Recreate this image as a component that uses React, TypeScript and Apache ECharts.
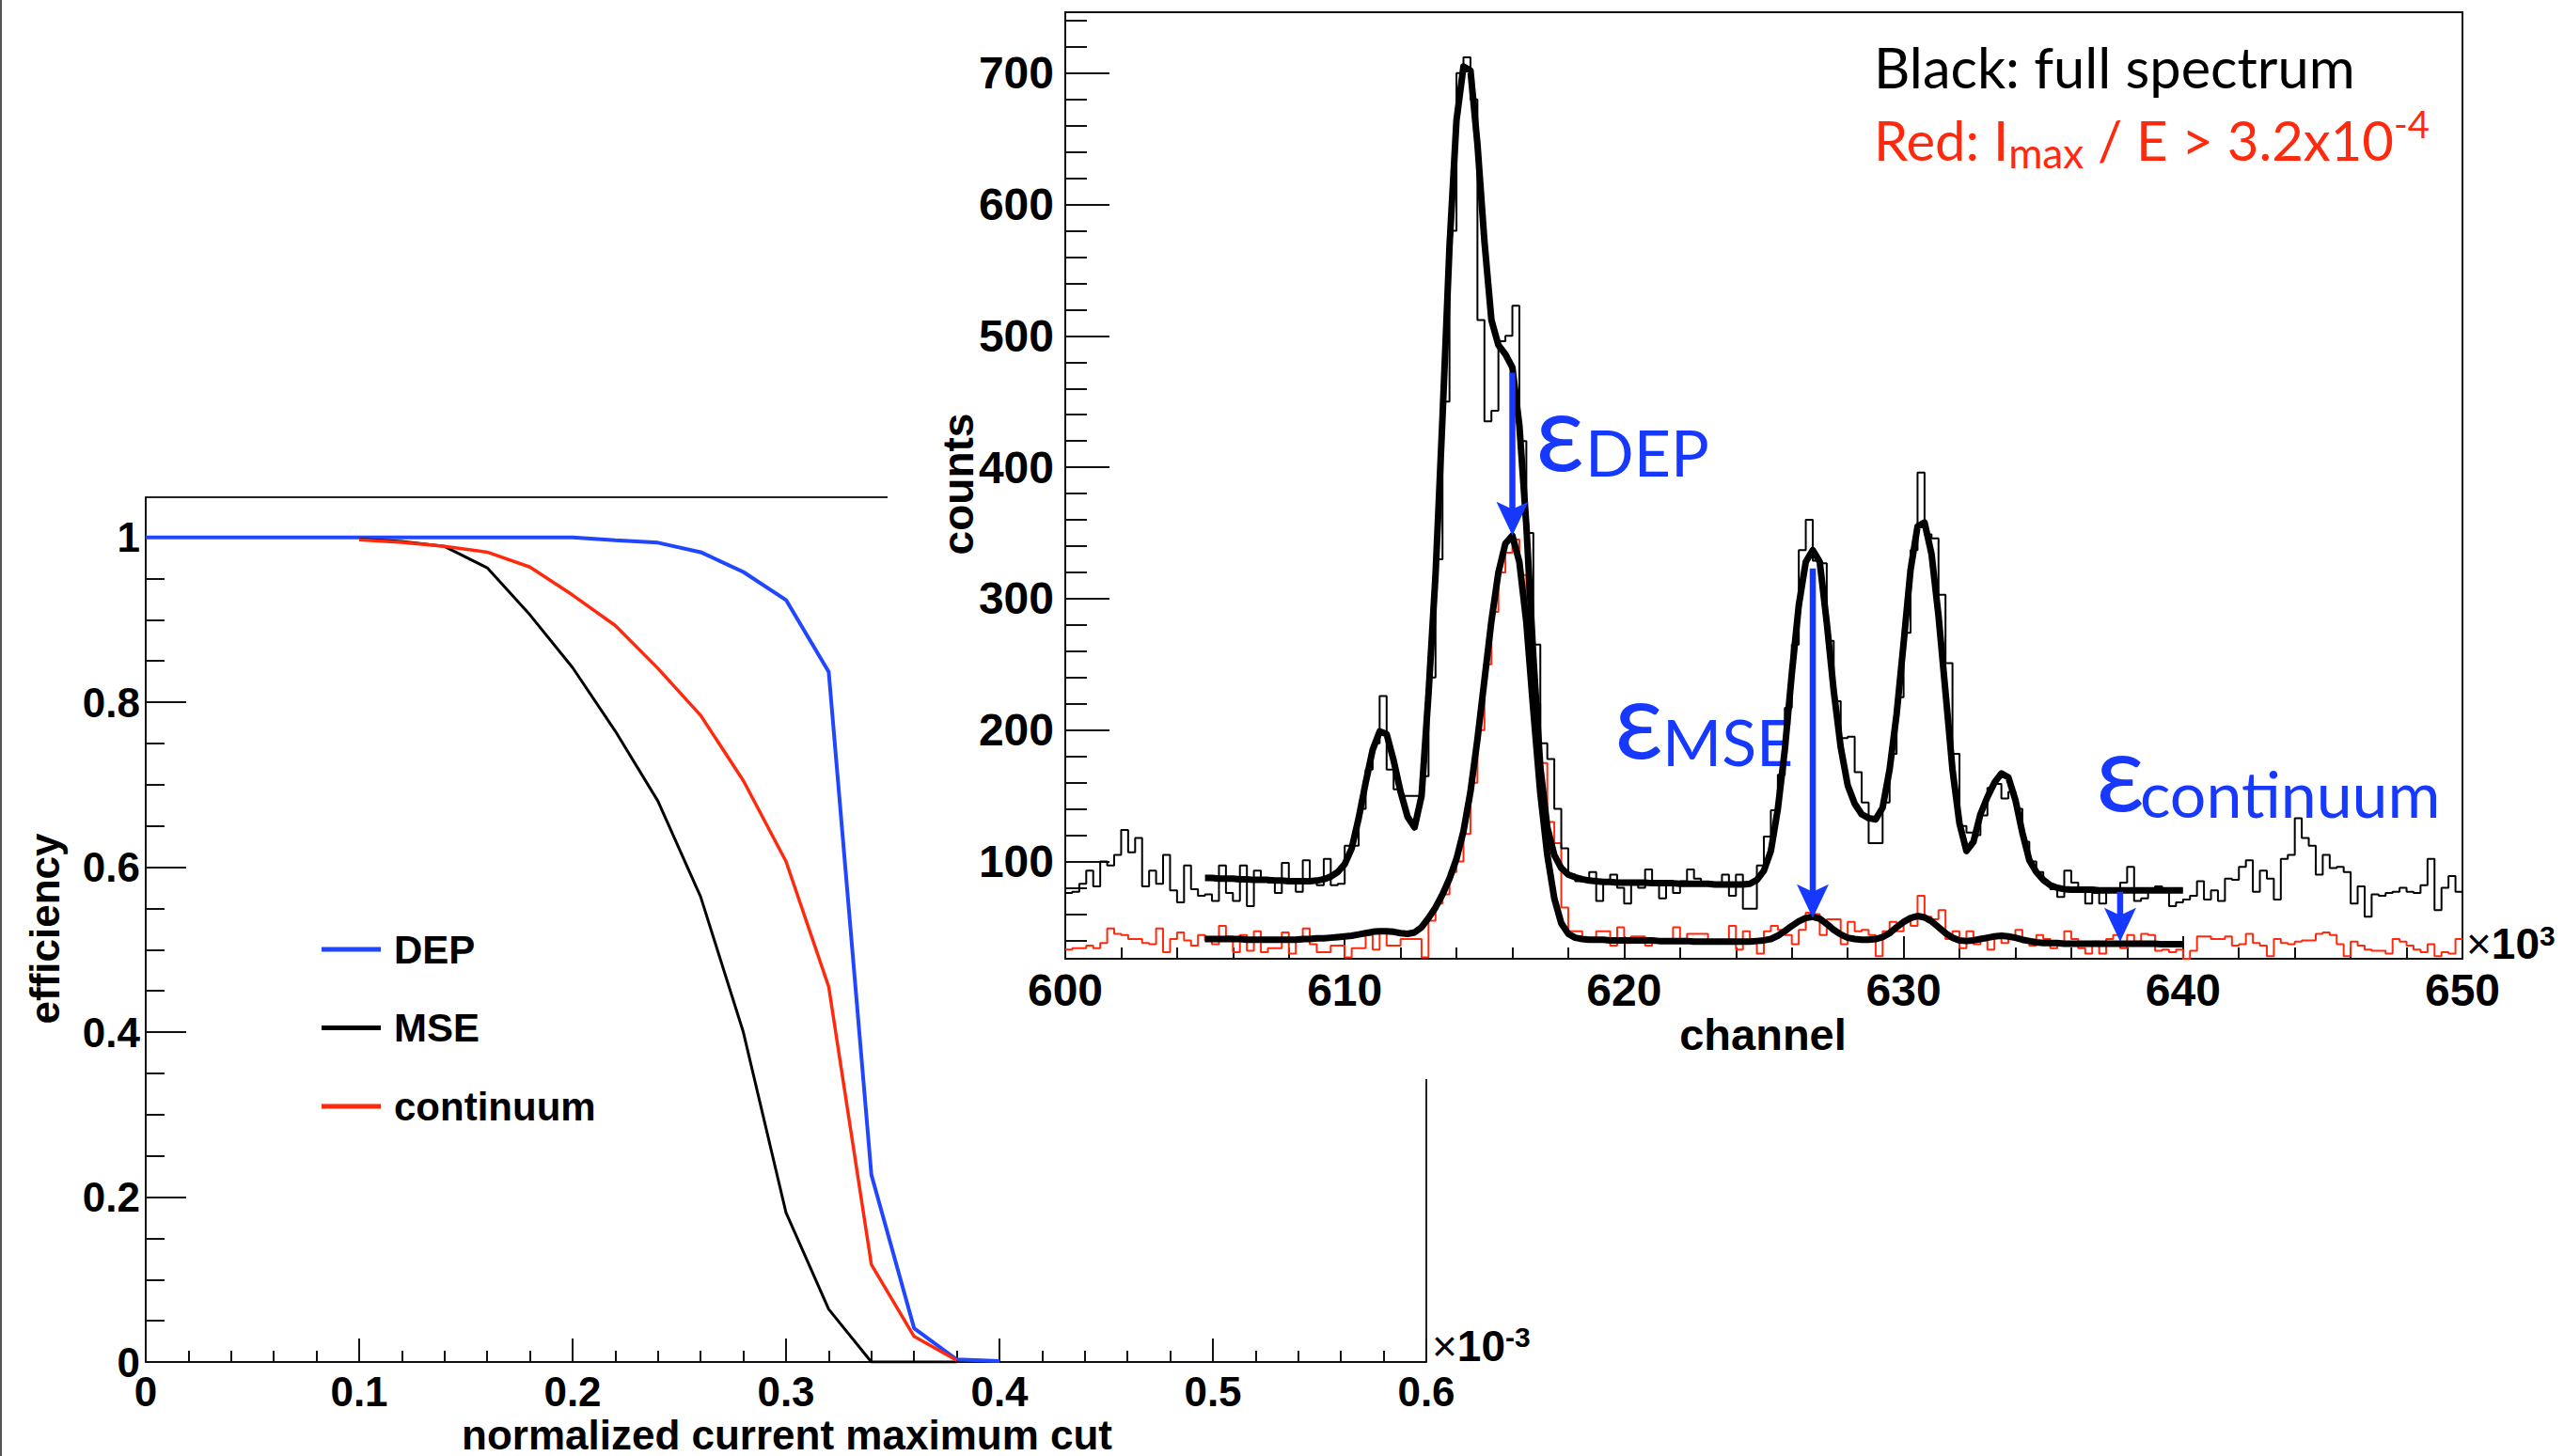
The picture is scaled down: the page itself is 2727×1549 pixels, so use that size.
import React, { useEffect, useRef } from 'react';
import * as echarts from 'echarts';

const W = 2727;
const H = 1549;

// ---------- Left panel: efficiency vs normalized current maximum cut (x in units of 1e-3) ----------
const depX = [0, 0.1, 0.2, 0.22, 0.24, 0.26, 0.28, 0.3, 0.32, 0.34, 0.36, 0.38, 0.4];
const depY = [1, 1, 1, 0.9965, 0.9935, 0.982, 0.958, 0.924, 0.837, 0.227, 0.041, 0.003, 0.001];
const mseX = [0.1, 0.12, 0.14, 0.16, 0.18, 0.2, 0.22, 0.24, 0.26, 0.28, 0.3, 0.32, 0.34, 0.36, 0.38];
const mseY = [0.998, 0.995, 0.989, 0.963, 0.906, 0.842, 0.765, 0.68, 0.564, 0.4, 0.181, 0.064, 0, 0, 0];
const contX = [0.1, 0.12, 0.14, 0.16, 0.18, 0.2, 0.22, 0.24, 0.26, 0.28, 0.3, 0.32, 0.34, 0.36, 0.38];
const contY = [0.997, 0.994, 0.989, 0.982, 0.964, 0.93, 0.893, 0.841, 0.784, 0.705, 0.607, 0.455, 0.118, 0.031, 0.002];
const effTicks = [0, 0.2, 0.4, 0.6, 0.8, 1];
const effMinor = [0.05, 0.1, 0.15, 0.25, 0.3, 0.35, 0.45, 0.5, 0.55, 0.65, 0.7, 0.75, 0.85, 0.9, 0.95];

// ---------- Right panel: spectrum (channel in units of 1e3) ----------
const BIN_START = 600;
const BIN_WIDTH = 0.25;
const fullCounts = [
  76, 77, 83, 93, 81, 100, 97, 105, 124, 107, 118, 81, 93, 83, 105, 78, 69, 97, 79, 74,
  75, 70, 97, 76, 70, 97, 66, 93, 86, 84, 76, 99, 86, 77, 101, 86, 82, 102, 82, 83,
  112, 112, 140, 170, 190, 226, 170, 155, 150, 150, 150, 165,
  240, 330, 450, 580, 700, 712, 680, 512, 435, 443, 496, 500, 523, 420, 350, 265, 190, 178, 140, 110, 90, 85,
  86, 92, 70, 84, 90, 80, 68, 84, 80, 94, 84, 72, 84, 76, 85, 94, 87, 84, 82, 82, 90, 74, 90, 64, 64, 97,
  119, 139, 166, 217, 265, 337, 360, 329, 327, 268, 222, 194, 195, 168, 145, 114, 114, 145, 182, 225,
  274, 337, 396, 349, 346, 303, 251, 182, 127, 122, 120, 135, 156, 159, 148, 153, 140, 115, 100, 92,
  84, 79, 73, 93,
  84, 78, 68, 76, 68, 77, 77, 84, 96, 70, 72, 78, 81, 77, 66, 69, 71, 74, 85, 71,
  78, 70, 87, 86, 96, 101, 77, 93, 87, 71, 102, 105, 133, 118, 112, 90, 105, 95, 96, 92,
  68, 81, 58, 75, 74, 76, 77, 80, 77, 76, 82, 102, 63, 80, 89, 77,
];
const cutCounts = [
  33, 34, 34, 36, 34, 38, 49, 45, 44, 41, 41, 38, 37, 49, 31, 41, 46, 40, 36, 44,
  40, 37, 51, 43, 31, 44, 32, 47, 31, 34, 34, 46, 30, 39, 49, 37, 31, 31, 36, 36,
  27, 34, 34, 44, 33, 47, 36, 36, 41, 41, 41, 27,
  55, 68, 75, 92, 100, 121, 160, 200, 250, 290, 320, 335, 345, 318, 270, 220, 175, 130, 114, 65, 47, 47,
  40, 40, 47, 47, 36, 50, 38, 43, 43, 36, 40, 40, 40, 50, 38, 45, 45, 45, 38, 38, 38, 51, 33, 47, 41, 30,
  47, 51, 48, 44, 37, 48, 61, 60, 44, 56, 56, 37, 54, 47, 48, 44, 28, 47, 54, 47,
  56, 51, 74, 58, 56, 63, 41, 47, 34, 47, 37, 40, 33, 44, 38, 43, 48, 41, 36, 44,
  41, 34, 38, 47,
  41, 34, 30, 39, 30, 41, 44, 34, 44, 39, 45, 44, 32, 33, 31, 33, 26, 32, 43, 43,
  41, 41, 43, 36, 37, 45, 38, 36, 28, 41, 38, 37, 39, 40, 40, 45, 46, 44, 37, 28,
  39, 36, 33, 32, 32, 30, 41, 39, 36, 33, 31, 37, 28, 31, 30, 41,
];
const FIT_START = 605;
const FIT_STEP = 0.25;
const fullFit = [
  87.5, 87.5, 87, 87, 87, 86.5, 86.5, 86, 86, 86, 85.5, 85.5, 85, 85, 85, 85, 85.5, 86.5, 88.5, 92,
  98, 110, 133, 160, 185, 199, 197, 177, 153, 134, 126, 150, 228, 318, 438, 568, 664, 705, 702, 646,
  572, 512, 493, 486, 476, 432, 356, 256, 172, 126, 105, 95, 90, 88, 86.5, 85.5, 85,
  84.5, 84.5, 84, 84, 84, 84, 84, 83.5, 83.5, 83.5, 83.5, 83, 83, 83, 83, 83, 82.5, 82.5, 82.5,
  82.5, 82.5, 83, 86, 93, 108, 140, 185, 243, 295, 328, 337, 328, 282, 230, 187, 158, 144, 136, 133,
  132, 141, 170, 212, 266, 322, 355, 358, 334, 287, 229, 170, 129, 108, 115, 136, 149, 160, 167, 164,
  147, 122, 101, 92, 86, 82, 80, 79,
  78.5, 78.5, 78.5, 78.5, 78, 78, 78, 78, 78, 78, 78, 78, 78, 78, 78, 78, 78,
];
const cutFit = [
  41, 41, 41, 41, 41, 41, 40.5, 40.5, 40.5, 40.5, 40.5, 40.5, 40.5, 40.5, 41, 41, 41.5, 41.5, 42, 42.5,
  43, 43.5, 44.5, 45.5, 46.5, 47, 47, 46.5, 45.5, 45, 46, 50, 57, 65, 75, 87, 102, 123, 153, 193,
  238, 283, 320, 342, 348, 328, 282, 215, 152, 105, 72, 53, 45, 42, 41, 40.5, 40.5,
  40.5, 40, 40, 40, 40, 40, 40, 40, 39.5, 39.5, 39.5, 39.5, 39.5, 39, 39, 39, 39, 39, 39,
  39, 39, 39, 39.5, 40, 41, 43.5, 47, 51, 54.5, 57, 58, 56.5, 52.5, 48, 44.5, 42, 41, 40.5, 40.5,
  41, 42.5, 45.5, 50, 54, 57, 58.5, 57.5, 54.5, 50, 45.5, 42, 40, 39.5, 40, 41, 42, 43, 43.5, 43,
  42, 40.5, 39.5, 38.5, 38,
  38, 38, 37.5, 37.5, 37.5, 37.5, 37.5, 37.5, 37.5, 37.5, 37.5, 37.5, 37.5, 37.5, 37.5, 37.5, 37, 37, 37, 37,
];
const arrowX = [616.0, 626.75, 637.75];
const arrowTop = [472, 323, 77];
const arrowTip = [348, 57, 39];
const countTicks = [100, 200, 300, 400, 500, 600, 700];
const countMinor = [40, 60, 80, 120, 140, 160, 180, 220, 240, 260, 280, 320, 340, 360, 380, 420, 440, 460, 480, 520, 540, 560, 580, 620, 640, 660, 680, 720, 740];

const BLUE_LINE = '#2146ff';
const BLUE_TXT = '#1638ff';
const RED = '#ff2a0d';
const AXIS = '#111';
const SANS = "'Liberation Sans', Arial, sans-serif";
const GILL = "Lato, 'Noto Sans', sans-serif";

function pairs(xs: number[], ys: number[]) {
  return xs.map((x, i) => [x, ys[i]]);
}
function histData(counts: number[]) {
  const d = counts.map((v, i) => [BIN_START + i * BIN_WIDTH, v]);
  d.push([BIN_START + counts.length * BIN_WIDTH, counts[counts.length - 1]]);
  return d;
}
function fitData(vals: number[]) {
  return vals.map((v, i) => [FIT_START + i * FIT_STEP, v]);
}

function buildOption(): any {
  const tickLabel = { fontFamily: SANS, fontWeight: 'bold', color: '#000' };
  return {
    animation: false,
    backgroundColor: '#fff',
    grid: [
      { left: 155, top: 529, width: 1362, height: 920, show: false },
      { left: 1133, top: 13, width: 1486, height: 1007, show: true, borderColor: AXIS, borderWidth: 2, backgroundColor: 'transparent' },
    ],
    xAxis: [
      {
        type: 'value', gridIndex: 0, min: 0, max: 0.6, interval: 0.1,
        axisLine: { show: true, lineStyle: { color: AXIS, width: 2 } },
        axisTick: { show: true, inside: true, length: 25, lineStyle: { color: AXIS, width: 2 } },
        minorTick: { show: true, splitNumber: 5, length: 12, lineStyle: { color: AXIS, width: 2 } },
        axisLabel: { ...tickLabel, fontSize: 44, lineHeight: 42, margin: 10, showMinLabel: true, showMaxLabel: true },
        splitLine: { show: false },
      },
      {
        type: 'value', gridIndex: 1, min: 600, max: 650, interval: 10,
        axisLine: { show: true, lineStyle: { color: AXIS, width: 2 } },
        axisTick: { show: true, inside: true, length: 24, lineStyle: { color: AXIS, width: 2 } },
        minorTick: { show: true, splitNumber: 5, length: 12, lineStyle: { color: AXIS, width: 2 } },
        axisLabel: { ...tickLabel, fontSize: 48, lineHeight: 48, margin: 9, showMinLabel: true, showMaxLabel: true },
        splitLine: { show: false },
      },
    ],
    yAxis: [
      {
        type: 'value', gridIndex: 0, position: 'left', min: 0, max: 1.0486,
        axisLine: { show: true, lineStyle: { color: AXIS, width: 2 } },
        axisTick: { show: true, inside: true, length: 43, customValues: effTicks, lineStyle: { color: AXIS, width: 2 } },
        axisLabel: { ...tickLabel, fontSize: 44, margin: 6, customValues: effTicks },
        splitLine: { show: false },
      },
      {
        type: 'value', gridIndex: 0, position: 'left', offset: 0, min: 0, max: 1.0486,
        axisLine: { show: false },
        axisTick: { show: true, inside: true, length: 20, customValues: effMinor, lineStyle: { color: AXIS, width: 2 } },
        axisLabel: { show: false },
        splitLine: { show: false },
      },
      {
        type: 'value', gridIndex: 1, position: 'left', min: 26, max: 746.3,
        axisLine: { show: true, lineStyle: { color: AXIS, width: 2 } },
        axisTick: { show: true, inside: true, length: 47, customValues: countTicks, lineStyle: { color: AXIS, width: 2 } },
        axisLabel: { ...tickLabel, fontSize: 48, margin: 12, customValues: countTicks },
        splitLine: { show: false },
      },
      {
        type: 'value', gridIndex: 1, position: 'left', offset: 0, min: 26, max: 746.3,
        axisLine: { show: false },
        axisTick: { show: true, inside: true, length: 23, customValues: countMinor, lineStyle: { color: AXIS, width: 2 } },
        axisLabel: { show: false },
        splitLine: { show: false },
      },
    ],
    legend: {
      data: ['DEP', 'MSE', 'continuum'],
      orient: 'vertical', left: 337, top: 983,
      icon: 'rect',
      itemWidth: 63, itemHeight: 5, itemGap: 39.5,
      selectedMode: false,
      textStyle: { fontFamily: SANS, fontWeight: 'bold', fontSize: 42, lineHeight: 44, color: '#000', padding: [0, 0, 0, 9] },
    },
    series: [
      { name: 'DEP', type: 'line', xAxisIndex: 0, yAxisIndex: 0, data: pairs(depX, depY), symbol: 'none', lineStyle: { color: BLUE_LINE, width: 4 }, itemStyle: { color: BLUE_LINE }, z: 3 },
      { name: 'MSE', type: 'line', xAxisIndex: 0, yAxisIndex: 0, data: pairs(mseX, mseY), symbol: 'none', lineStyle: { color: '#000', width: 3 }, itemStyle: { color: '#000' }, z: 4 },
      { name: 'continuum', type: 'line', xAxisIndex: 0, yAxisIndex: 0, data: pairs(contX, contY), symbol: 'none', lineStyle: { color: RED, width: 3.5 }, itemStyle: { color: RED }, z: 5 },

      { name: 'cut spectrum', type: 'line', step: 'end', xAxisIndex: 1, yAxisIndex: 2, data: histData(cutCounts), symbol: 'none', lineStyle: { color: RED, width: 2 }, z: 3 },
      { name: 'full spectrum', type: 'line', step: 'end', xAxisIndex: 1, yAxisIndex: 2, data: histData(fullCounts), symbol: 'none', lineStyle: { color: '#000', width: 2 }, z: 4 },
      { name: 'full fit', type: 'line', xAxisIndex: 1, yAxisIndex: 2, data: fitData(fullFit), symbol: 'none', lineStyle: { color: '#000', width: 7, join: 'round' }, z: 5 },
      { name: 'cut fit', type: 'line', xAxisIndex: 1, yAxisIndex: 2, data: fitData(cutFit), symbol: 'none', lineStyle: { color: '#000', width: 7, join: 'round' }, z: 5 },
      {
        name: 'arrows', type: 'custom', xAxisIndex: 1, yAxisIndex: 2, z: 10,
        data: arrowX.map((x, i) => [x, arrowTop[i], arrowTip[i]]),
        encode: { x: 0, y: [1, 2] },
        renderItem: (params: any, api: any) => {
          const p1 = api.coord([api.value(0), api.value(1)]);
          const p2 = api.coord([api.value(0), api.value(2)]);
          const hw = 17, hh = 36, notch = 8;
          return {
            type: 'group',
            children: [
              { type: 'rect', shape: { x: p1[0] - 3.25, y: p1[1], width: 6.5, height: p2[1] - hh + notch + 2 - p1[1] }, style: { fill: BLUE_TXT } },
              { type: 'polygon', shape: { points: [[p2[0] - hw, p2[1] - hh], [p2[0], p2[1] - hh + notch], [p2[0] + hw, p2[1] - hh], [p2[0], p2[1]]] }, style: { fill: BLUE_TXT } },
            ],
          };
        },
      },
    ],
    graphic: [
      { type: 'line', shape: { x1: 1, y1: 0, x2: 1, y2: H }, style: { stroke: '#555', lineWidth: 2 } },
      { type: 'line', shape: { x1: 155, y1: 529, x2: 944, y2: 529 }, style: { stroke: '#222', lineWidth: 2 } },
      { type: 'line', shape: { x1: 1517, y1: 1148, x2: 1517, y2: 1449 }, style: { stroke: '#222', lineWidth: 2 } },

      { type: 'text', x: 47, y: 988, rotation: Math.PI / 2, style: { text: 'efficiency', fontFamily: SANS, fontWeight: 'bold', fontSize: 44, fill: '#000', align: 'center', verticalAlign: 'middle' } },
      { type: 'text', x: 837, y: 1526, style: { text: 'normalized current maximum cut', fontFamily: SANS, fontWeight: 'bold', fontSize: 44, lineHeight: 44, fill: '#000', align: 'center', verticalAlign: 'middle' } },
      {
        type: 'text', x: 1523, y: 1432,
        style: {
          text: '{x|×}{b|10}{s|-3}', align: 'left', verticalAlign: 'middle',
          rich: {
            x: { fontFamily: SANS, fontSize: 46, fill: '#000', lineHeight: 50 },
            b: { fontFamily: SANS, fontWeight: 'bold', fontSize: 46, fill: '#000', lineHeight: 50 },
            s: { fontFamily: SANS, fontWeight: 'bold', fontSize: 30, fill: '#000', verticalAlign: 'top', lineHeight: 30 },
          },
        },
      },

      { type: 'text', x: 1019, y: 515, rotation: Math.PI / 2, style: { text: 'counts', fontFamily: SANS, fontWeight: 'bold', fontSize: 46, fill: '#000', align: 'center', verticalAlign: 'middle' } },
      { type: 'text', x: 1875, y: 1100, style: { text: 'channel', fontFamily: SANS, fontWeight: 'bold', fontSize: 47, fill: '#000', align: 'center', verticalAlign: 'middle' } },
      {
        type: 'text', x: 2623, y: 1004,
        style: {
          text: '{x|×}{b|10}{s|3}', align: 'left', verticalAlign: 'middle',
          rich: {
            x: { fontFamily: SANS, fontSize: 46, fill: '#000', lineHeight: 48 },
            b: { fontFamily: SANS, fontWeight: 'bold', fontSize: 46, fill: '#000', lineHeight: 48 },
            s: { fontFamily: SANS, fontWeight: 'bold', fontSize: 30, fill: '#000', verticalAlign: 'top', lineHeight: 30 },
          },
        },
      },

      { type: 'text', x: 1993, y: 71, style: { text: 'Black: full spectrum', fontFamily: GILL, fontSize: 59.5, fill: '#000', align: 'left', verticalAlign: 'middle' } },
      {
        type: 'text', x: 1993, y: 148,
        style: {
          text: '{a|Red: I}{s|max}{a| / E > 3.2x10}{p|-4}', align: 'left', verticalAlign: 'middle',
          rich: {
            a: { fontFamily: GILL, fontSize: 58, fill: RED, lineHeight: 72 },
            s: { fontFamily: GILL, fontSize: 44, fill: RED, lineHeight: 44, verticalAlign: 'bottom' },
            p: { fontFamily: GILL, fontSize: 40, fill: RED, lineHeight: 40, verticalAlign: 'top' },
          },
        },
      },

      { type: 'text', x: 1633, y: 456, style: { text: 'ε', fontFamily: GILL, fontSize: 115, fill: BLUE_TXT, align: 'left', verticalAlign: 'middle' } },
      { type: 'text', x: 1686, y: 480, style: { text: 'DEP', fontFamily: GILL, fontSize: 68, fill: BLUE_TXT, align: 'left', verticalAlign: 'middle' } },
      { type: 'text', x: 1717, y: 762, style: { text: 'ε', fontFamily: GILL, fontSize: 115, fill: BLUE_TXT, align: 'left', verticalAlign: 'middle' } },
      { type: 'text', x: 1768, y: 788, style: { text: 'MSE', fontFamily: GILL, fontSize: 68, fill: BLUE_TXT, align: 'left', verticalAlign: 'middle' } },
      { type: 'text', x: 2229, y: 818, style: { text: 'ε', fontFamily: GILL, fontSize: 115, fill: BLUE_TXT, align: 'left', verticalAlign: 'middle' } },
      { type: 'text', x: 2276, y: 843, style: { text: 'continuum', fontFamily: GILL, fontSize: 68, fill: BLUE_TXT, align: 'left', verticalAlign: 'middle' } },
    ],
  };
}

export default function App() {
  const ref = useRef<HTMLDivElement>(null);
  useEffect(() => {
    if (!ref.current) return;
    const chart = echarts.init(ref.current, null, { renderer: 'svg', width: W, height: H });
    chart.setOption(buildOption());
    return () => chart.dispose();
  }, []);
  return <div ref={ref} style={{ position: 'absolute', left: 0, top: 0, width: W, height: H, background: '#fff' }} />;
}
